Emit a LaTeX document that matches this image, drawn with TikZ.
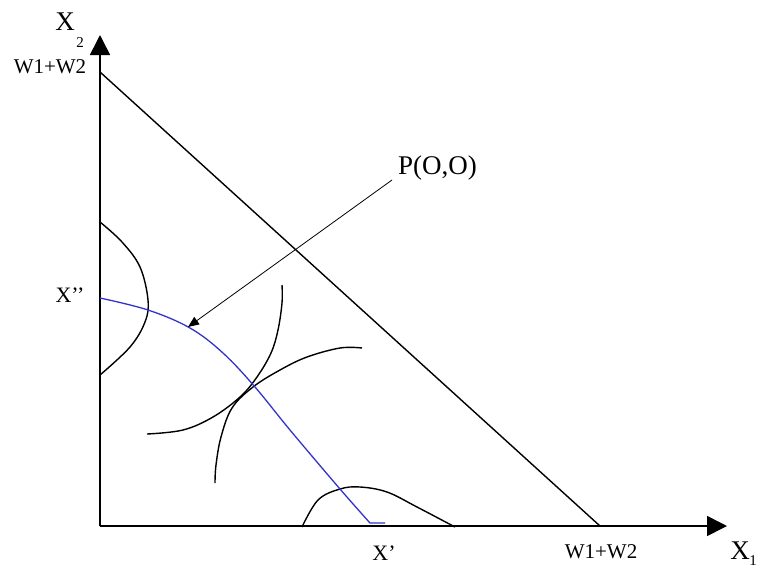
\documentclass[tikz,border=0pt]{standalone}
\usepackage{fontspec}
\setmainfont{Liberation Serif}
\usetikzlibrary{arrows.meta}
\begin{document}
\begin{tikzpicture}[x=1pt,y=-1pt,
  axis/.style={line width=1.6pt,-{Triangle[length=20pt,width=20pt]}},
  curve/.style={line width=1.4pt},
  pathcurve/.style={line width=1.3pt,draw={rgb,255:red,51;green,51;blue,204}},
  pointer/.style={line width=0.8pt,-{Triangle[length=11pt,width=9pt]}},
  lab/.style={inner sep=0pt,font=\fontsize{22}{24}\selectfont},
  big/.style={inner sep=0pt,font=\fontsize{27}{29}\selectfont},
  small/.style={inner sep=0pt,font=\fontsize{15}{17}\selectfont}]
\useasboundingbox (0,0) rectangle (760,571);
\coordinate (O) at (100,526);
\coordinate (ytip) at (100,35);
\coordinate (xtip) at (727,526);
\coordinate (wy) at (100,72);
\coordinate (wx) at (600,526);
\draw[axis] (O) -- (ytip);
\draw[axis] (O) -- (xtip);
\draw[curve] (wy) -- (wx);
% indifference curves
\draw[curve] plot[smooth,tension=0.6] coordinates {(100,222) (122,242) (140,267) (148,300) (145,322) (130,347) (100,375)};
\draw[curve] plot[smooth,tension=0.6] coordinates {(282,285) (282,303) (278,330) (271,353) (257,377) (240,397) (213,417) (183,430) (147,434)};
\draw[curve] plot[smooth,tension=0.6] coordinates {(362,348) (340,348) (307,357) (280,370) (253,387) (232,408) (221,437) (216,465) (215,483)};
\draw[curve] plot[smooth,tension=0.6] coordinates {(302,527) (318,500) (340,489) (360,487) (387,492) (417,507) (455,527)};
% contract path
\draw[pathcurve] plot[smooth,tension=0.6] coordinates {(100,298) (148,310) (190,328) (223,353) (255,387) (290,430) (340,489) (370,523)} -- (385,523);
% labels
\node[big] (x2) at (65,22) {X};
\node[small] (x2s) at (80,43) {2};
\node[lab,font=\fontsize{21}{23}\selectfont] (wtop) at (50,67) {W1+W2};
\node[lab] (xpp) at (70,295) {X’’};
\node[lab] (xp) at (384,553) {X’};
\node[lab,font=\fontsize{21}{23}\selectfont] (wbot) at (601,552) {W1+W2};
\node[big] (x1) at (740,551) {X};
\node[small] (x1s) at (753,561) {1};
\node[inner sep=0pt,font=\fontsize{27}{29}\selectfont,anchor=south west] (P) at (398,180) {P(O,O)};
\coordinate (ptarget) at (188,327);
\draw[pointer] (P.south west) ++(-6,0) coordinate (pstart) -- (ptarget);
\end{tikzpicture}
\end{document}
